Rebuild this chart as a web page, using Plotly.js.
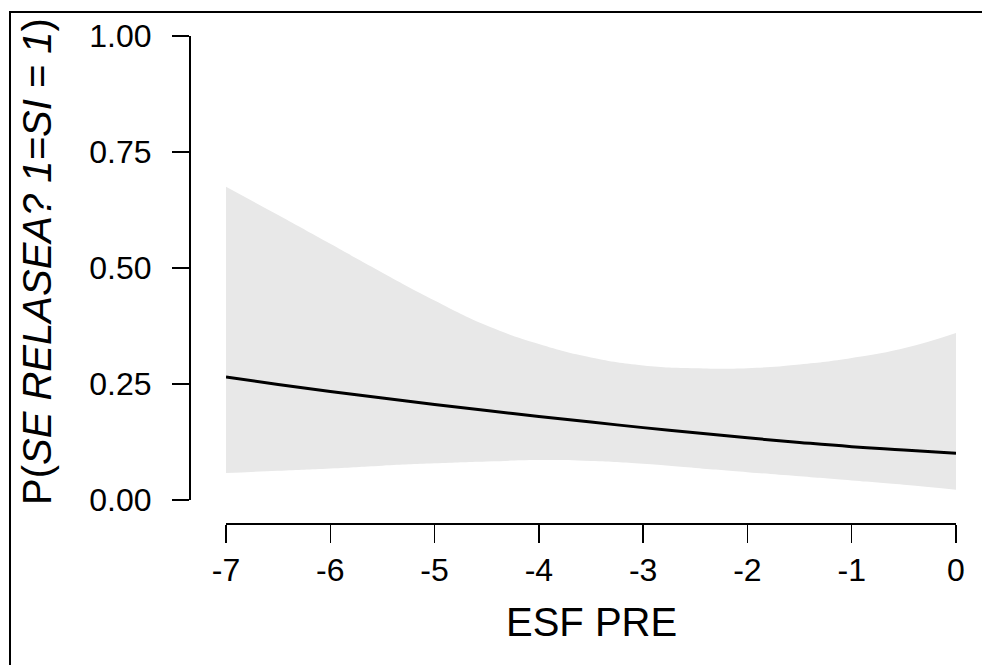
<!DOCTYPE html>
<html>
<head>
<meta charset="utf-8">
<script src="https://cdn.plot.ly/plotly-3.0.1.min.js"></script>
<style>html,body{margin:0;padding:0;background:#fff;}#chart{width:982px;height:665px;}</style>
</head>
<body>
<div id="chart"></div>
<script>
// Data
const esfPre = [-7, -6.5, -6, -5.5, -5, -4.5, -4, -3.5, -3, -2.5, -2, -1.5, -1, -0.5, 0];
const probFit = [0.265, 0.249, 0.234, 0.220, 0.206, 0.193, 0.180, 0.168, 0.156, 0.145, 0.134, 0.124, 0.115, 0.108, 0.101];
const ciUpper = [0.675, 0.614, 0.552, 0.490, 0.430, 0.376, 0.336, 0.307, 0.290, 0.284, 0.284, 0.292, 0.306, 0.327, 0.360];
const ciLower = [0.058, 0.063, 0.068, 0.074, 0.079, 0.083, 0.086, 0.084, 0.078, 0.069, 0.060, 0.051, 0.042, 0.033, 0.022];
const xTicks = [-7, -6, -5, -4, -3, -2, -1, 0];
const yTicks = [0, 0.25, 0.5, 0.75, 1];
const yTickText = ['0.00', '0.25', '0.50', '0.75', '1.00'];

const W = 982, H = 665;
const mL = 189, mR = 26, mT = 36, mB = 142;
const pw = W - mL - mR, ph = H - mT - mB;
const px2x = p => (p - mL) / pw;
const px2y = p => (H - mB - p) / ph;

const FONT = 'Liberation Sans, Arial, Helvetica, sans-serif';

const traces = [
  {x: esfPre, y: ciLower, type: 'scatter', mode: 'lines', line: {width: 0, shape: 'spline', smoothing: 1.3, color: '#e8e8e8'}, hoverinfo: 'skip', showlegend: false},
  {x: esfPre, y: ciUpper, type: 'scatter', mode: 'lines', fill: 'tonexty', fillcolor: '#e8e8e8', line: {width: 0, shape: 'spline', smoothing: 1.3, color: '#e8e8e8'}, hoverinfo: 'skip', showlegend: false},
  {x: esfPre, y: probFit, type: 'scatter', mode: 'lines', line: {width: 3, color: '#000', shape: 'spline', smoothing: 1.3}, showlegend: false}
];

const fx0 = px2x(10), fy1 = px2y(12);

const layout = {
  width: W, height: H,
  margin: {l: mL, r: mR, t: mT, b: mB, pad: 0},
  paper_bgcolor: '#fff', plot_bgcolor: 'rgba(0,0,0,0)',
  font: {family: FONT, color: '#000'},
  showlegend: false,
  xaxis: {
    domain: [px2x(226), 1], range: [-7, 0], anchor: 'free', position: 0,
    showline: true, linecolor: '#000', linewidth: 1.5,
    ticks: 'outside', ticklen: 18, tickwidth: 1.5, tickcolor: '#000',
    tickvals: xTicks, ticktext: xTicks.map(String),
    tickfont: {size: 32, family: FONT, color: '#000'},
    showgrid: false, zeroline: false, fixedrange: true
  },
  yaxis: {
    domain: [px2y(500), 1], range: [0, 1], anchor: 'free', position: 0,
    showline: true, linecolor: '#000', linewidth: 1.5,
    ticks: 'outside', ticklen: 17, tickwidth: 1.5, tickcolor: '#000',
    tickvals: yTicks, ticktext: yTickText, ticklabelstandoff: 14,
    tickfont: {size: 32, family: FONT, color: '#000'},
    showgrid: false, zeroline: false, fixedrange: true
  },
  shapes: [
    {type: 'path', xref: 'paper', yref: 'paper', path: 'M ' + fx0 + ',-3 L ' + fx0 + ',' + fy1 + ' L 3,' + fy1, line: {color: '#000', width: 2}, fillcolor: 'rgba(0,0,0,0)'}
  ],
  annotations: [
    {text: 'ESF PRE', xref: 'paper', yref: 'paper', x: px2x(591), y: px2y(622), xanchor: 'center', yanchor: 'middle', showarrow: false, font: {size: 40, family: FONT, color: '#000'}},
    {text: 'P(<i>SE RELASEA? 1=SI</i> = <i>1</i>)', xref: 'paper', yref: 'paper', x: px2x(37), y: px2y(262), xanchor: 'center', yanchor: 'middle', textangle: -90, showarrow: false, font: {size: 40, family: FONT, color: '#000'}}
  ]
};

Plotly.newPlot('chart', traces, layout, {staticPlot: true, displayModeBar: false});
</script>
</body>
</html>
